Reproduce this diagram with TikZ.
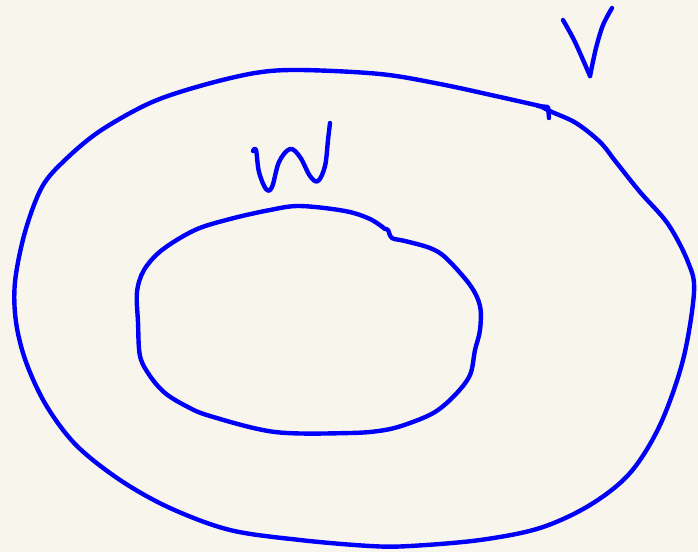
\documentclass[tikz,border=0pt]{standalone}
\definecolor{paper}{RGB}{248,246,236}
\definecolor{ink}{RGB}{0,0,250}
\begin{document}
\begin{tikzpicture}[x=1pt,y=-1pt,
  pen/.style={draw=ink,line width=4.4pt,line cap=round,line join=round}]
\fill[paper] (0,0) rectangle (698,552);
\useasboundingbox (0,0) rectangle (698,552);
% outer region V
\draw[pen] plot[smooth,tension=0.55] coordinates {
 (540,106) (500,97) (440,84) (380,74) (300,70) (255,73) (200,86) (150,103) (100,131)
 (65,160) (42,187) (25,232) (15,282) (16,322) (26,362) (46,405) (76,445) (120,480)
 (170,508) (230,530) (300,540) (370,546) (410,546) (480,540) (540,528) (590,505)
 (630,473) (660,425) (683,360) (694,292) (688,262) (668,224) (640,192) (616,162)
 (600,142) (576,123) (552,112) (540,106)};
\draw[pen] (538,106) -- (548,107) -- (549,118);
% inner region W
\draw[pen] plot[smooth,tension=0.55] coordinates {
 (385,229) (370,219) (345,211) (300,206) (270,210) (230,219) (195,230) (162,250)
 (144,270) (137,292) (138,322) (140,356) (150,376) (165,393) (186,406) (210,416)
 (275,432) (350,433) (385,430) (410,423) (435,412) (455,395) (470,375)
 (475,350) (480,330) (480,306) (470,285) (446,258) (430,248) (405,241) (392,238)
 (388,230) (385,229)};
% handwritten V
\draw[pen] plot[smooth,tension=0.5] coordinates {(563,20) (575,42) (590,76)};
\draw[pen] plot[smooth,tension=0.5] coordinates {(590,76) (596,48) (603,25) (612,8)};
% handwritten W
\draw[pen] plot[smooth,tension=0.6] coordinates {
 (253,151) (256,150) (259,172) (266,189) (272,187) (279,162) (290,149) (300,157)
 (310,176) (318,181) (325,166) (328,140) (330,123)};
\end{tikzpicture}
\end{document}
